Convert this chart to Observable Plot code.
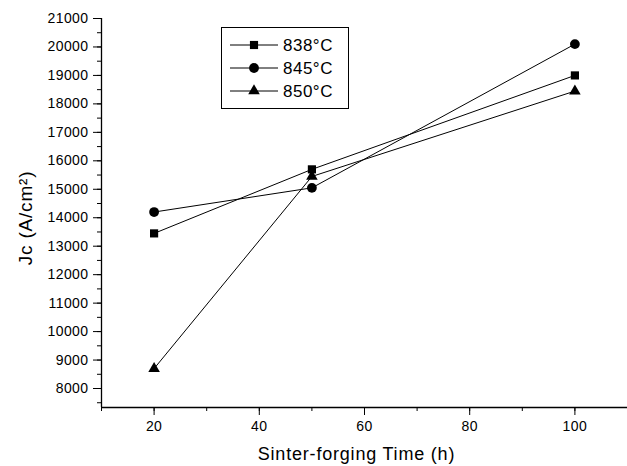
<!DOCTYPE html>
<html>
<head>
<meta charset="utf-8">
<script src="https://cdn.jsdelivr.net/npm/d3@7"></script>
<script src="https://cdn.jsdelivr.net/npm/@observablehq/plot@0.6"></script>
<style>
  html, body { margin: 0; padding: 0; background: white; }
  #wrap { position: relative; width: 627px; height: 466px; font-family: "Liberation Sans", Arial, sans-serif; }
</style>
</head>
<body>
<div id="wrap"></div>
<script>
// ---- data ----
const times = [20, 50, 100];
const seriesNames = ["838°C", "845°C", "850°C"];
const jc838 = [13450, 15700, 19000];
const jc845 = [14200, 15050, 20100];
const jc850 = [8700, 15450, 18450];
const yMajorTicks = d3.range(8000, 21001, 1000);
const yMinorTicks = d3.range(7500, 21001, 500);
const xMajorTicks = [20, 40, 60, 80, 100];
const xMinorTicks = d3.range(10, 111, 10);
const xTitle = "Sinter-forging Time (h)";
const yTitle = "Jc (A/cm²)";

const seriesValues = [jc838, jc845, jc850];
const symbols = ["square", "circle", "triangle"];
const radii = [4.6, 4.9, 4.3];
const seriesData = seriesNames.map((s, k) =>
  times.map((t, i) => ({series: s, time: t, jc: seriesValues[k][i]})));
const allData = seriesData.flat();

const yDomain = [7333, 21000];
const xDomain = [10, 110];

const chart = Plot.plot({
  width: 627,
  height: 466,
  marginLeft: 101,
  marginRight: 0,
  marginTop: 18,
  marginBottom: 59,
  x: {domain: xDomain},
  y: {domain: yDomain},
  style: {fontFamily: "'Liberation Sans', Arial, sans-serif", fontSize: "14px", color: "black", background: "white", letterSpacing: "0.4px"},
  marks: [
    Plot.axisY({ticks: yMinorTicks, tickSize: 4, tickFormat: () => "", label: null, strokeWidth: 1}),
    Plot.axisY({ticks: yMajorTicks, tickSize: 8, tickPadding: 5, tickFormat: d => String(d), label: null, strokeWidth: 1}),
    Plot.axisX({ticks: xMinorTicks, tickSize: 4, tickFormat: () => "", label: null, strokeWidth: 1}),
    Plot.axisX({ticks: xMajorTicks, tickSize: 8, tickPadding: 6, tickFormat: d => String(d), label: null, strokeWidth: 1}),
    Plot.ruleX([xDomain[0]], {y1: yDomain[0], y2: yDomain[1], stroke: "black", strokeWidth: 1.3}),
    Plot.ruleY([yDomain[0]], {x1: xDomain[0], x2: xDomain[1], stroke: "black", strokeWidth: 1.3}),
    Plot.line(allData, {x: "time", y: "jc", z: "series", stroke: "black", strokeWidth: 1}),
    ...seriesData.map((d, k) => Plot.dot(d, {x: "time", y: "jc", symbol: symbols[k], r: radii[k], fill: "black", stroke: "none"})),
    Plot.text([xTitle], {frameAnchor: "bottom", textAnchor: "middle", lineAnchor: "middle", dx: -8, dy: 47, fontSize: 18, text: d => d}),
    Plot.text([yTitle], {frameAnchor: "left", textAnchor: "middle", lineAnchor: "middle", dx: -76, dy: 5, rotate: -90, fontSize: 19, text: d => d})
  ]
});

// slightly wider letter spacing for the axis titles
d3.select(chart).selectAll("text").filter(function() {
  const t = this.textContent; return t === xTitle || t === yTitle;
}).attr("letter-spacing", "0.8px");

const wrap = document.getElementById("wrap");
wrap.appendChild(chart);

// ---- legend ----
const lw = 128, lh = 82;
const leg = d3.create("svg").attr("width", lw).attr("height", lh)
  .style("position", "absolute").style("left", "221px").style("top", "27px");
leg.append("rect").attr("x", 0.5).attr("y", 0.5).attr("width", lw - 1).attr("height", lh - 1)
  .attr("fill", "white").attr("stroke", "black").attr("stroke-width", 1);
const symMap = {square: d3.symbolSquare, circle: d3.symbolCircle, triangle: d3.symbolTriangle};
seriesNames.forEach((s, k) => {
  const yy = 18 + k * 23;
  leg.append("line").attr("x1", 9).attr("x2", 57).attr("y1", yy).attr("y2", yy)
    .attr("stroke", "black").attr("stroke-width", 1);
  leg.append("path").attr("transform", `translate(33,${yy})`)
    .attr("d", d3.symbol(symMap[symbols[k]], Math.PI * radii[k] * radii[k])())
    .attr("fill", "black");
  leg.append("text").attr("x", 62).attr("y", yy).attr("dy", "0.36em")
    .attr("font-family", "'Liberation Sans', Arial, sans-serif").attr("font-size", 17)
    .attr("letter-spacing", "0.5px").attr("fill", "black").text(s);
});
wrap.appendChild(leg.node());
</script>
</body>
</html>
